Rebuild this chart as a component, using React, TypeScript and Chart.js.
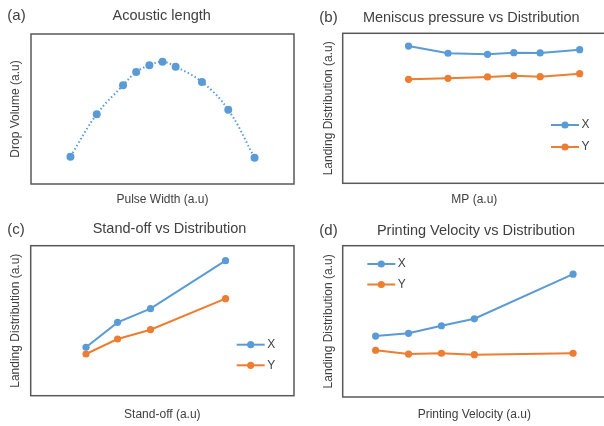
import React, { useEffect, useRef } from "react";
import { Chart, registerables } from "chart.js";

Chart.register(...registerables);

const FONT = '"Liberation Sans", Arial, sans-serif';
Chart.defaults.font.family = FONT;

const BLUE = "#5B9BD5";
const ORANGE = "#ED7D31";
const TEXT = "#404040";
const FRAME = "#595959";

// (a) Acoustic length
const aPulseWidth = [3, 5, 7, 8, 9, 10, 11, 13, 15, 17];
const aDropVolume = [18.2, 46.5, 65.8, 74.7, 79.1, 81.5, 78.2, 68.0, 49.5, 17.5];

// (b) Meniscus pressure vs Distribution
const bMP = [5, 8, 11, 13, 15, 18];
const bX = [91.5, 86.7, 86.0, 87.1, 86.9, 89.1];
const bY = [69.3, 70.0, 70.9, 71.7, 71.1, 73.1];

// (c) Stand-off vs Distribution
const cStandOff = [21, 33, 45.5, 74];
const cX = [32.3, 48.9, 58.0, 90.0];
const cY = [27.8, 37.8, 44.0, 64.7];

// (d) Printing Velocity vs Distribution
const dVelocity = [1, 2, 3, 4, 7];
const dX = [40.3, 42.1, 47.1, 51.7, 81.2];
const dY = [30.9, 28.4, 28.9, 28.0, 28.9];

const pts = (xs: number[], ys: number[]) => xs.map((x, i) => ({ x, y: ys[i] }));

const panelDecor = {
  id: "panelDecor",
  beforeDatasetsDraw(chart: any) {
    const { ctx, chartArea: a } = chart;
    ctx.save();
    ctx.strokeStyle = FRAME;
    ctx.lineWidth = 1.5;
    ctx.strokeRect(a.left, a.top, a.right - a.left, a.bottom - a.top);
    ctx.restore();
  },
  afterDraw(chart: any, _a: any, o: any) {
    const { ctx } = chart;
    ctx.save();
    ctx.fillStyle = TEXT;
    ctx.textBaseline = "middle";
    ctx.textAlign = "left";
    ctx.font = `15px ${FONT}`;
    ctx.fillText(o.tag, o.tagX, o.tagY);
    ctx.textAlign = "center";
    ctx.font = `14.5px ${FONT}`;
    ctx.fillText(o.title, o.titleX, o.titleY);
    if (o.legend) {
      const L = o.legend;
      chart.data.datasets.forEach((ds: any, i: number) => {
        const y = L.y + i * L.gap;
        ctx.strokeStyle = ds.borderColor;
        ctx.lineWidth = 2;
        ctx.beginPath();
        ctx.moveTo(L.x, y);
        ctx.lineTo(L.x + 28, y);
        ctx.stroke();
        ctx.fillStyle = ds.borderColor;
        ctx.beginPath();
        ctx.arc(L.x + 14, y, 3.6, 0, Math.PI * 2);
        ctx.fill();
        ctx.fillStyle = TEXT;
        ctx.textAlign = "left";
        ctx.font = `12px ${FONT}`;
        ctx.fillText(ds.label, L.x + 30.5, y);
      });
    }
    ctx.restore();
  },
};

interface PanelSpec {
  left: number;
  top: number;
  width: number;
  height: number;
  tag: string;
  title: string;
  xTitle: string;
  yTitle: string;
  pad: { top: number; right: number; bottom: number; left: number };
  xPad: { top: number; bottom: number };
  yPad: { top: number; bottom: number };
  titleX: number;
  titleY: number;
  tagX: number;
  tagY: number;
  xMin: number;
  xMax: number;
  datasets: any[];
  legend?: { x: number; y: number; gap: number };
}

const lineSet = (label: string, color: string, xs: number[], ys: number[]) => ({
  label,
  data: pts(xs, ys),
  borderColor: color,
  backgroundColor: color,
  borderWidth: 2,
  pointRadius: 3.6,
  pointBorderWidth: 0,
  tension: 0,
});

const panels: PanelSpec[] = [
  {
    left: 0, top: 0, width: 302, height: 213,
    tag: "(a)", title: "Acoustic length", xTitle: "Pulse Width (a.u)", yTitle: "Drop Volume (a.u)",
    pad: { top: 34, right: 8, bottom: 0, left: 3 },
    xPad: { top: 8.2, bottom: 6.4 }, yPad: { top: 5.6, bottom: 8 },
    titleX: 161.7, titleY: 16.1, tagX: 7.3, tagY: 16,
    xMin: 0, xMax: 20,
    datasets: [
      {
        label: "Drop Volume",
        data: pts(aPulseWidth, aDropVolume),
        borderColor: BLUE,
        backgroundColor: BLUE,
        borderWidth: 2,
        borderDash: [1.5, 2.5],
        pointRadius: 4,
        pointBorderWidth: 0,
        tension: 0.4,
      },
    ],
  },
  {
    left: 302, top: 0, width: 310, height: 213,
    tag: "(b)", title: "Meniscus pressure vs Distribution", xTitle: "MP (a.u)", yTitle: "Landing Distribution (a.u)",
    pad: { top: 33.3, right: 6, bottom: 0, left: 14 },
    xPad: { top: 9.5, bottom: 5.8 }, yPad: { top: 5.7, bottom: 6.6 },
    titleX: 169.3, titleY: 18.4, tagX: 17.3, tagY: 17.8,
    xMin: 0, xMax: 20,
    datasets: [lineSet("X", BLUE, bMP, bX), lineSet("Y", ORANGE, bMP, bY)],
    legend: { x: 249, y: 125, gap: 22 },
  },
  {
    left: 0, top: 213, width: 302, height: 213,
    tag: "(c)", title: "Stand-off vs Distribution", xTitle: "Stand-off (a.u)", yTitle: "Landing Distribution (a.u)",
    pad: { top: 32.7, right: 8, bottom: 0, left: 3 },
    xPad: { top: 11.6, bottom: 4.3 }, yPad: { top: 5.9, bottom: 7.4 },
    titleX: 169.5, titleY: 16.1, tagX: 7.3, tagY: 16.8,
    xMin: 0, xMax: 100,
    datasets: [lineSet("X", BLUE, cStandOff, cX), lineSet("Y", ORANGE, cStandOff, cY)],
    legend: { x: 236.7, y: 131.7, gap: 20.6 },
  },
  {
    left: 302, top: 213, width: 310, height: 213,
    tag: "(d)", title: "Printing Velocity vs Distribution", xTitle: "Printing Velocity (a.u)", yTitle: "Landing Distribution (a.u)",
    pad: { top: 32.7, right: 6, bottom: 0, left: 14 },
    xPad: { top: 10.5, bottom: 4.1 }, yPad: { top: 5.7, bottom: 6.6 },
    titleX: 174, titleY: 18.1, tagX: 17.3, tagY: 17.8,
    xMin: 0, xMax: 8,
    datasets: [lineSet("X", BLUE, dVelocity, dX), lineSet("Y", ORANGE, dVelocity, dY)],
    legend: { x: 65.3, y: 51, gap: 20.5 },
  },
];

function Panel({ spec }: { spec: PanelSpec }) {
  const ref = useRef<HTMLCanvasElement | null>(null);
  useEffect(() => {
    if (!ref.current) return;
    const axisTitle = (text: string, padding: { top: number; bottom: number }) => ({
      display: true,
      text,
      color: TEXT,
      font: { size: 12, family: FONT },
      padding,
    });
    const chart = new Chart(ref.current, {
      type: "line",
      data: { datasets: spec.datasets },
      options: {
        responsive: false,
        animation: false,
        layout: { padding: spec.pad },
        plugins: {
          legend: { display: false },
          tooltip: { enabled: false },
          title: { display: false },
          panelDecor: {
            tag: spec.tag,
            title: spec.title,
            titleX: spec.titleX,
            titleY: spec.titleY,
            tagX: spec.tagX,
            tagY: spec.tagY,
            legend: spec.legend,
          },
        } as any,
        scales: {
          x: {
            type: "linear",
            min: spec.xMin,
            max: spec.xMax,
            ticks: { display: false },
            grid: { display: false, drawTicks: false, tickLength: 0 },
            border: { display: false },
            title: axisTitle(spec.xTitle, spec.xPad),
          },
          y: {
            type: "linear",
            min: 0,
            max: 100,
            ticks: { display: false },
            grid: { display: false, drawTicks: false, tickLength: 0 },
            border: { display: false },
            title: axisTitle(spec.yTitle, spec.yPad),
          },
        },
      },
      plugins: [panelDecor as any],
    });
    return () => chart.destroy();
  }, [spec]);
  return (
    <div style={{ position: "absolute", left: spec.left, top: spec.top, width: spec.width, height: spec.height }}>
      <canvas ref={ref} width={spec.width} height={spec.height} style={{ display: "block", width: spec.width, height: spec.height }} />
    </div>
  );
}

export default function App() {
  return (
    <div style={{ position: "absolute", left: 0, top: 0, width: 604, height: 426, overflow: "hidden", background: "#ffffff" }}>
      {panels.map((p) => (
        <Panel key={p.tag} spec={p} />
      ))}
    </div>
  );
}
